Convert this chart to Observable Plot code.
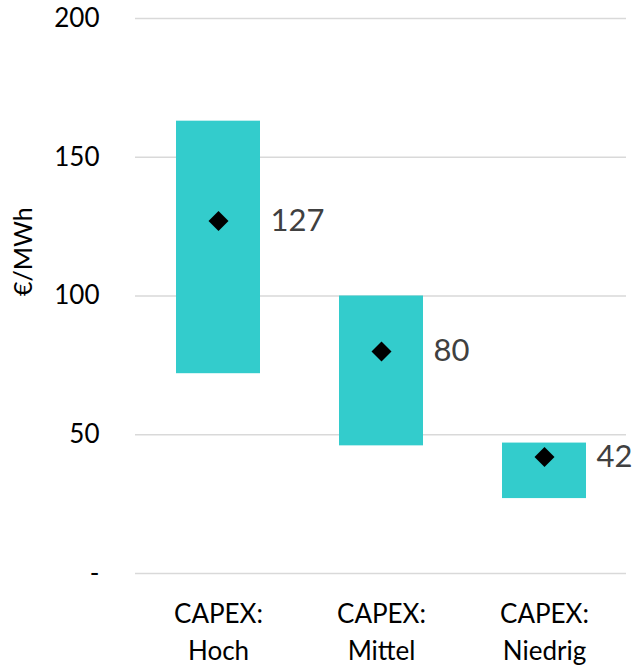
<!DOCTYPE html>
<html>
<head>
<meta charset="utf-8">
<script src="https://cdn.jsdelivr.net/npm/d3@7"></script>
<script src="https://cdn.jsdelivr.net/npm/@observablehq/plot@0.6"></script>
<style>
  html, body { margin: 0; padding: 0; background: #fff; }
  #chart svg { display: block; }
</style>
</head>
<body>
<div id="chart"></div>
<script>
// CAPEX scenarios: cost range (low–high) and central estimate, €/MWh
const categories = ["CAPEX:\nHoch", "CAPEX:\nMittel", "CAPEX:\nNiedrig"];
const lowValues = [72, 46, 27];
const highValues = [163, 100, 47];
const midValues = [127, 80, 42];
const yTicks = [0, 50, 100, 150, 200];

const rows = categories.map((c, i) => ({
  category: c,
  low: lowValues[i],
  high: highValues[i],
  mid: midValues[i]
}));

const font = "Lato, 'Open Sans', sans-serif";

const chart = Plot.plot({
  width: 638,
  height: 665,
  marginLeft: 135,
  marginRight: 12,
  marginTop: 18,
  marginBottom: 92,
  style: { fontFamily: font, background: "#fff", overflow: "visible" },
  x: { domain: categories, paddingInner: 0.485, paddingOuter: 0.24 },
  y: { domain: [0, 200] },
  marks: [
    Plot.gridY(yTicks, { stroke: "#d9d9d9", strokeOpacity: 1, strokeWidth: 1.5 }),
    Plot.axisY(yTicks, {
      tickSize: 0,
      tickPadding: 36,
      fontSize: 26,
      fill: "#000",
      tickFormat: d => d === 0 ? "-" : String(d),
      label: null
    }),
    Plot.axisX({
      tickSize: 0,
      tickPadding: 23,
      fontSize: 26,
      lineHeight: 1.42,
      fill: "#000",
      label: null
    }),
    Plot.text(["€/MWh"], {
      frameAnchor: "left",
      rotate: -90,
      dx: -112,
      fontSize: 25,
      fill: "#000"
    }),
    Plot.barY(rows, { x: "category", y1: "low", y2: "high", fill: "#33cccc" }),
    Plot.dot(rows, { x: "category", y: "mid", symbol: "diamond2", r: 9, fill: "#000", stroke: "none" }),
    Plot.text(rows, {
      x: "category",
      y: "mid",
      text: d => String(d.mid),
      textAnchor: "start",
      dx: 52,
      fontSize: 31,
      fill: "#404040"
    })
  ]
});

document.getElementById("chart").appendChild(chart);
</script>
</body>
</html>
